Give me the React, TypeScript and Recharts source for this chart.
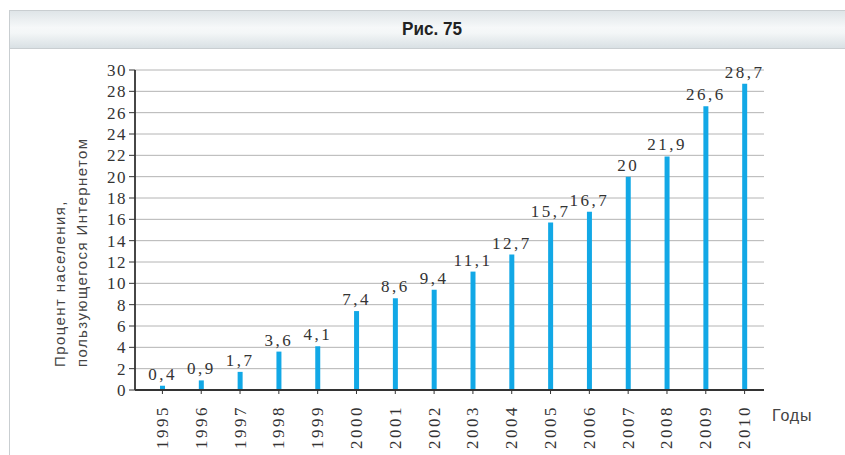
import { BarChart, Bar, XAxis, YAxis, CartesianGrid, LabelList } from 'recharts';

const years = ['1995', '1996', '1997', '1998', '1999', '2000', '2001', '2002', '2003', '2004', '2005', '2006', '2007', '2008', '2009', '2010'];
const shares = [0.4, 0.9, 1.7, 3.6, 4.1, 7.4, 8.6, 9.4, 11.1, 12.7, 15.7, 16.7, 20, 21.9, 26.6, 28.7];
const yTicks = [0, 2, 4, 6, 8, 10, 12, 14, 16, 18, 20, 22, 24, 26, 28, 30];

const data = years.map((year, i) => ({ year, share: shares[i] }));

const SERIF = '"Liberation Serif", "DejaVu Serif", serif';
const SANS = '"Liberation Sans", Arial, sans-serif';
const INK = '#333';
const BLUE = '#12a8e6';

function YearTick({ x, y, payload }: any) {
  return (
    <text
      x={x}
      y={y + 9}
      transform={`rotate(-90, ${x}, ${y + 9})`}
      textAnchor="end"
      dominantBaseline="central"
      style={{ fontFamily: SERIF, fontSize: 17, letterSpacing: 2.5 }}
      fill={INK}
    >
      {payload.value}
    </text>
  );
}

function YTitle({ viewBox }: any) {
  const cx = viewBox.x - 20;
  const cy = viewBox.y + viewBox.height - 23;
  const st = { fontFamily: SANS, fontSize: 15, letterSpacing: 1.4 };
  return (
    <g fill="#444">
      <text x={cx} y={cy} transform={`rotate(-90, ${cx}, ${cy})`} textAnchor="start" style={st}>
        Процент населения,
      </text>
      <text x={cx + 22} y={cy} transform={`rotate(-90, ${cx + 22}, ${cy})`} textAnchor="start" style={st}>
        пользующегося Интернетом
      </text>
    </g>
  );
}

function XTitle({ viewBox }: any) {
  return (
    <text x={viewBox.x + viewBox.width + 8} y={viewBox.y + 31} style={{ fontFamily: SANS, fontSize: 16, letterSpacing: 0.8 }} fill="#444">
      Годы
    </text>
  );
}

export default function App() {
  return (
    <div style={{ position: 'fixed', left: 0, top: 0, width: 845, height: 455, background: '#fff', overflow: 'hidden' }}>
      {/* frame */}
      <div style={{ position: 'absolute', left: 9, top: 10, width: 850, height: 460, border: '1px solid #c9ced1', boxSizing: 'border-box' }} />
      <div
        style={{
          position: 'absolute', left: 10, top: 11, width: 845, height: 37,
          background: 'linear-gradient(#dfe5e8, #f6f8f9 45%, #f3f6f7 60%, #d9e0e4)',
          borderBottom: '1px solid #c9ced1',
        }}
      >
        <div
          style={{
            position: 'absolute', left: 432 - 10, top: 18, transform: 'translate(-50%, -50%) scaleX(0.9)',
            fontFamily: SANS, fontWeight: 'bold', fontSize: 19, color: '#222', whiteSpace: 'nowrap',
          }}
        >
          Рис. 75
        </div>
      </div>
      <div style={{ position: 'absolute', left: 0, top: 0 }}>
        <BarChart width={845} height={455} data={data} margin={{ top: 70, right: 81, bottom: 10, left: 85 }} barSize={5}>
          <CartesianGrid vertical={false} stroke="#b4b4b4" strokeWidth={1} />
          <XAxis
            dataKey="year"
            height={55}
            padding={{ left: 8, right: 0 }}
            tick={<YearTick />}
            tickSize={4}
            tickLine={{ stroke: INK }}
            axisLine={{ stroke: INK, strokeWidth: 1.8 }}
            interval={0}
            label={<XTitle />}
          />
          <YAxis
            width={50}
            domain={[0, 30]}
            ticks={yTicks}
            interval={0}
            tickSize={6}
            tickLine={{ stroke: INK }}
            axisLine={{ stroke: INK, strokeWidth: 1.8 }}
            tick={{ style: { fontFamily: SERIF, fontSize: 17, letterSpacing: 1.5 }, fill: INK }}
            label={<YTitle />}
          />
          <Bar dataKey="share" fill={BLUE} isAnimationActive={false}>
            <LabelList
              dataKey="share"
              position="top"
              offset={6}
              formatter={(v: any) => String(v).replace('.', ',')}
              style={{ fontFamily: SERIF, fontSize: 17, letterSpacing: 2.5, fill: INK }}
            />
          </Bar>
        </BarChart>
      </div>
    </div>
  );
}
